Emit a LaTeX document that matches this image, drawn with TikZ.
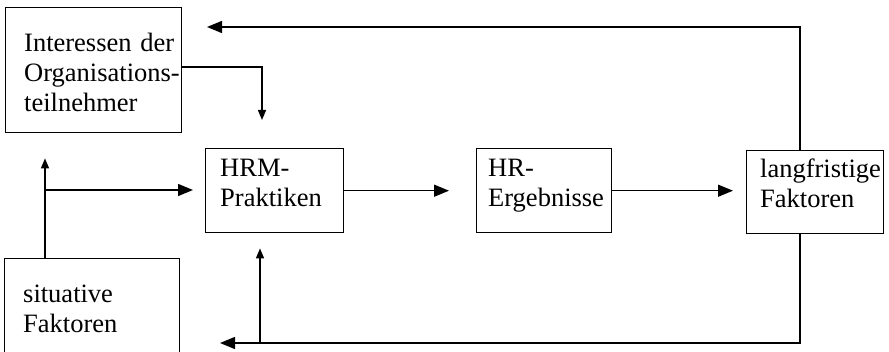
\documentclass[tikz,border=0pt]{standalone}
\usepackage{fontspec}
\setmainfont{Liberation Serif}
\usetikzlibrary{positioning}
\usetikzlibrary{calc}
\usetikzlibrary{arrows.meta}

\tikzset{
  box/.style={draw, line width=1.4pt, rectangle, anchor=north west, inner sep=0pt},
  boxtext/.style={anchor=base west, inner sep=0pt, align=left, text width=160pt,
    font=\fontsize{26.5}{30}\selectfont},
  bigarrow/.style={-{Triangle[length=15pt,width=12pt]}, line width=1.4pt},
  smallarrow/.style={-{Triangle[length=10pt,width=8pt]}, line width=1.4pt},
}

\begin{document}
\begin{tikzpicture}[x=1pt, y=-1pt]
            \clip (0,0) rectangle (889,352);
            \useasboundingbox (0,0) rectangle (889,352);

            % boxes
            \node[box, minimum width=176pt, minimum height=125pt] (interessen) at (5,7) {};
            \node[box, minimum width=138pt, minimum height=84pt] (hrm) at (205,148) {};
            \node[box, minimum width=135pt, minimum height=84pt] (hr) at (476,148) {};
            \node[box, minimum width=137pt, minimum height=83pt] (lang) at (746,150) {};
            \node[box, minimum width=175pt, minimum height=110pt] (situativ) at (4,258) {};

            % texts
            \node[boxtext] (interessen_text) at ($(interessen.north west)+(19,45)$) {Interessen der\\Organisations-\\teilnehmer};
            \node[boxtext] (hrm_text) at ($(hrm.north west)+(15,29)$) {HRM-\\Praktiken};
            \node[boxtext] (hr_text) at ($(hr.north west)+(12,29)$) {HR-\\Ergebnisse};
            \node[boxtext] (lang_text) at ($(lang.north west)+(14,28)$) {langfristige\\Faktoren};
            \node[boxtext] (situativ_text) at ($(situativ.north west)+(19,45)$) {situative\\Faktoren};

            \coordinate (rightline) at (800,27);
            \coordinate (toptip) at (207,27);
            \coordinate (bottomline) at (800,343);
            \coordinate (bottomtip) at (220,343);
            \coordinate (feedback) at (260,343);
            \coordinate (sitline) at (45,190);
            \coordinate (interbend) at (262,67);

            % feedback loops
            \draw[bigarrow] (lang.north -| rightline) -- (rightline) -- (toptip);
            \draw[bigarrow] (lang.south -| rightline) -- (bottomline) -- (bottomtip);
            \draw[smallarrow] (feedback) -- ([yshift=-15pt]hrm.south -| feedback);

            % inputs
            \draw[smallarrow] (interessen.east |- interbend) -- (interbend) -- ([yshift=28pt]hrm.north -| interbend);
            \draw[smallarrow] (situativ.north -| sitline) -- ([yshift=-25pt]interessen.south -| sitline);
            \draw[bigarrow] (sitline) -- ([xshift=-12pt]hrm.west |- sitline);

            % main chain
            \draw[bigarrow] (hrm.east) -- ([xshift=-27pt]hr.west);
            \draw[bigarrow] (hr.east) -- ([xshift=-13pt]lang.west |- hr.east);
        \end{tikzpicture}
\end{document}
